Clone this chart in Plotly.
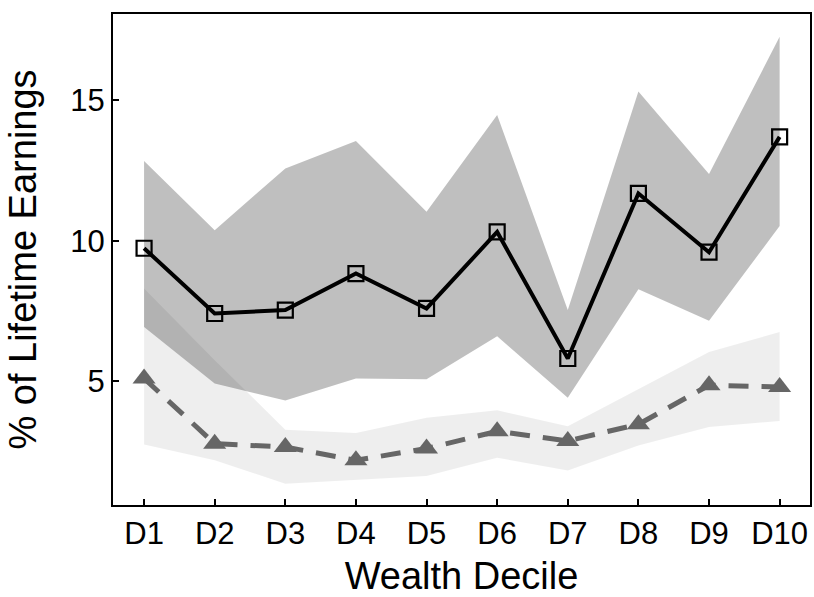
import plotly.graph_objects as go

deciles = ["D1", "D2", "D3", "D4", "D5", "D6", "D7", "D8", "D9", "D10"]
xpos = [1, 2, 3, 4, 5, 6, 7, 8, 9, 10]

# Black series (squares) and its band
main_vals = [9.73, 7.41, 7.53, 8.83, 7.59, 10.31, 5.81, 11.68, 9.59, 13.69]
main_upper = [12.83, 10.37, 12.57, 13.54, 11.03, 14.47, 7.53, 15.30, 12.37, 17.25]
main_lower = [6.93, 4.92, 4.32, 5.10, 5.07, 6.60, 4.41, 8.27, 7.15, 10.52]

# Gray series (triangles) and its band
sec_vals = [5.10, 2.78, 2.66, 2.19, 2.61, 3.22, 2.88, 3.47, 4.86, 4.80]
sec_upper = [8.30, 5.75, 3.28, 3.16, 3.70, 3.97, 3.40, 4.72, 6.04, 6.75]
sec_lower = [2.75, 2.19, 1.36, 1.50, 1.63, 2.28, 1.83, 2.72, 3.37, 3.59]

y_ticks = [5, 10, 15]

fig = go.Figure()

def band(upper, lower, color):
    return go.Scatter(
        x=xpos + xpos[::-1],
        y=upper + lower[::-1],
        fill="toself",
        fillcolor=color,
        line=dict(width=0),
        mode="lines",
        hoverinfo="skip",
        showlegend=False,
    )

fig.add_trace(band(main_upper, main_lower, "rgba(0,0,0,0.25)"))
fig.add_trace(band(sec_upper, sec_lower, "rgba(0,0,0,0.065)"))

fig.add_trace(go.Scatter(
    x=xpos, y=sec_vals, mode="lines+markers",
    line=dict(color="#666666", width=5, dash="20px,13px"),
    marker=dict(symbol="triangle-up", size=20, color="#666666"),
    showlegend=False,
))

fig.add_trace(go.Scatter(
    x=xpos, y=main_vals, mode="lines+markers",
    line=dict(color="black", width=4),
    marker=dict(symbol="square-open", size=15, color="black",
                line=dict(color="black", width=2.2)),
    showlegend=False,
))

font_family = "Liberation Sans, Arial, sans-serif"

fig.update_layout(
    width=814, height=597,
    margin=dict(l=113, r=2, t=14, b=92),
    plot_bgcolor="white", paper_bgcolor="white",
    font=dict(family=font_family, color="black"),
    xaxis=dict(
        range=[0.56, 10.43],
        tickmode="array", tickvals=xpos, ticktext=deciles,
        ticks="inside", ticklen=6, tickwidth=1.5, tickcolor="black",
        showline=True, linecolor="black", linewidth=2, mirror=True,
        showgrid=False, zeroline=False,
        tickfont=dict(size=31, family=font_family),
        title=dict(text="Wealth Decile", font=dict(size=38, family=font_family), standoff=16),
    ),
    yaxis=dict(
        range=[0.6, 18.06],
        tickmode="array", tickvals=y_ticks, ticktext=[str(v) for v in y_ticks],
        ticks="inside", ticklen=6, tickwidth=1.5, tickcolor="black",
        showline=True, linecolor="black", linewidth=2, mirror=True,
        showgrid=False, zeroline=False,
        tickfont=dict(size=31, family=font_family),
        title=dict(text="% of Lifetime Earnings", font=dict(size=38, family=font_family), standoff=22),
    ),
)

fig.write_html("out.html")
